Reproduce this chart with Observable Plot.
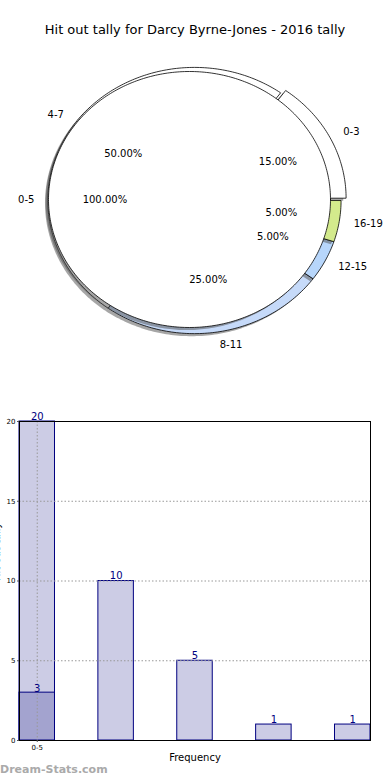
<!DOCTYPE html>
<html><head><meta charset="utf-8">
<script src="https://cdn.jsdelivr.net/npm/d3@7"></script>
<script src="https://cdn.jsdelivr.net/npm/@observablehq/plot@0.6"></script>
<style>
body{margin:0;background:#fff;font-family:"DejaVu Sans",sans-serif;}
#wrap{position:relative;width:390px;height:780px;overflow:hidden;background:#fff;}
#title{position:absolute;top:21px;left:0;width:390px;text-align:center;font-size:13px;line-height:18px;color:#000;}
#pie{position:absolute;top:50px;left:0;}
#bars{position:absolute;top:370px;left:0;}
#wm{position:absolute;left:0;top:763px;font-size:11px;font-weight:bold;color:#aaa;line-height:14px;}
</style></head>
<body><div id="wrap"><div id="title"></div><div id="pie"></div><div id="bars"></div><div id="wm"></div></div>
<script>
const title = "Hit out tally for Darcy Byrne-Jones - 2016 tally";
const innerLabels = ["0-5"];
const innerCounts = [20];
const outerLabels = ["0-3","4-7","8-11","12-15","16-19"];
const outerCounts = [3,10,5,1,1];
const outerColors = ["#ffffff","#ffffff","#c6daf9","#b7d6fb","#d3ea8c"];
const outerExplode = [0.04,0,0,0,0];
const barValues = [20,10,5,1,1];
const barPositions = [0,1,2,3,4];
const overlayValues = [3];
const overlayPositions = [0];
const yTicks = [0,5,10,15,20];
const xTickPositions = [0];
const xTickLabels = ["0-5"];
const xLabel = "Frequency";
const yLabel = "Hit out tally";
const watermark = "Dream-Stats.com";

document.getElementById("title").textContent = title;
document.getElementById("wm").textContent = watermark;

function wedges(counts, cx, cy, r, explode) {
  const total = d3.sum(counts);
  let acc = 0;
  return counts.map((c, i) => {
    const a0 = acc / total * 2 * Math.PI; acc += c; const a1 = acc / total * 2 * Math.PI;
    const mid = (a0 + a1) / 2;
    const ex = explode ? explode[i] : 0;
    const ox = cx + ex * Math.cos(mid), oy = cy + ex * Math.sin(mid);
    const n = Math.max(2, Math.ceil((a1 - a0) / (Math.PI / 180)));
    const full = c === total;
    const pts = [];
    if (!full) pts.push({x: ox, y: oy});
    for (let k = 0; k <= n; k++) { const a = a0 + (a1 - a0) * k / n; pts.push({x: ox + r * Math.cos(a), y: oy + r * Math.sin(a)}); }
    if (!full) pts.push({x: ox, y: oy});
    return {i, pts, mid, ox, oy, r, frac: c / total};
  });
}

const ocx = 0.035, ocy = -0.008, oR = 1.04;
const outerW = wedges(outerCounts, ocx, ocy, oR, outerExplode);
const innerW = wedges(innerCounts, 0, 0, 1, null);
const sh = 0.02;

const pieMarks = [];
function addWedge(w, color) {
  pieMarks.push(Plot.line(w.pts, {x: d => d.x - sh, y: d => d.y - sh, fill: "#4d4d4d", fillOpacity: 0.5, stroke: "none"}));
  pieMarks.push(Plot.line(w.pts, {x: "x", y: "y", fill: color, stroke: "#000", strokeWidth: 0.8}));
}
outerW.forEach(w => addWedge(w, outerColors[w.i]));
innerW.forEach(w => addWedge(w, "#ffffff"));

const labelRows = [
  ...outerW.map(w => ({t: outerLabels[w.i], x: w.ox + 1.1 * w.r * Math.cos(w.mid), y: w.oy + 1.1 * w.r * Math.sin(w.mid), c: Math.cos(w.mid)})),
  ...innerW.map(w => ({t: innerLabels[w.i], x: w.ox + 1.1 * w.r * Math.cos(w.mid), y: w.oy + 1.1 * w.r * Math.sin(w.mid), c: Math.cos(w.mid)}))
];
const pctRows = [
  ...outerW.map(w => ({t: (w.frac * 100).toFixed(2) + "%", x: w.ox + 0.6 * w.r * Math.cos(w.mid), y: w.oy + 0.6 * w.r * Math.sin(w.mid)})),
  ...innerW.map(w => ({t: (w.frac * 100).toFixed(2) + "%", x: w.ox + 0.6 * w.r * Math.cos(w.mid), y: w.oy + 0.6 * w.r * Math.sin(w.mid)}))
];
pieMarks.push(Plot.text(labelRows.filter(d => d.c >= 0), {x: "x", y: "y", text: "t", textAnchor: "start", fontSize: 10, fill: "#000"}));
pieMarks.push(Plot.text(labelRows.filter(d => d.c < 0), {x: "x", y: "y", text: "t", textAnchor: "end", fontSize: 10, fill: "#000"}));
pieMarks.push(Plot.text(pctRows, {x: "x", y: "y", text: "t", fontSize: 10, fill: "#000"}));

const pie = Plot.plot({
  width: 390, height: 320, margin: 0,
  style: {fontFamily: "DejaVu Sans", background: "transparent"},
  x: {domain: [-189 / 141, 201 / 141], axis: null},
  y: {domain: [-171 / 128, 149 / 128], axis: null},
  marks: pieMarks
});
document.getElementById("pie").append(pie);

const bars = barPositions.map((p, i) => ({pos: p, value: barValues[i]}));
const overlay = overlayPositions.map((p, i) => ({pos: p, value: overlayValues[i]}));
const hw = 0.225;

const barPlot = Plot.plot({
  width: 390, height: 410,
  marginLeft: 19, marginRight: 20, marginTop: 51, marginBottom: 40,
  style: {fontFamily: "DejaVu Sans", background: "transparent"},
  x: {domain: [-hw, 4 + hw], axis: null},
  y: {domain: [0, 20], axis: null},
  marks: [
    Plot.rect(bars, {x1: d => d.pos - hw, x2: d => d.pos + hw, y1: 0, y2: "value", fill: "#ccccE5", stroke: "#000080", strokeWidth: 1}),
    Plot.rect(overlay, {x1: d => d.pos - hw, x2: d => d.pos + hw, y1: 0, y2: "value", fill: "#a3a3cf", stroke: "#000080", strokeWidth: 1}),
    Plot.gridY({ticks: [5, 10, 15], stroke: "#999", strokeOpacity: 1, strokeDasharray: "1.5,2"}),
    Plot.gridX({ticks: xTickPositions, stroke: "#999", strokeOpacity: 1, strokeDasharray: "1.5,2"}),
    Plot.frame({stroke: "#000"}),
    Plot.axisY({ticks: yTicks, tickSize: 2, tickPadding: 2, fontSize: 7, label: null, stroke: "#555"}),
    Plot.axisX({ticks: xTickPositions, tickFormat: d => xTickLabels[xTickPositions.indexOf(d)], tickSize: 2, tickPadding: 3, fontSize: 7, label: null, stroke: "#555"}),
    Plot.text(bars, {x: "pos", y: "value", text: d => String(d.value), dy: -5, fill: "#000080", fontSize: 10}),
    Plot.text(overlay, {x: "pos", y: "value", text: d => String(d.value), dy: -4, fill: "#000080", fontSize: 10}),
    Plot.text([xLabel], {frameAnchor: "bottom", text: d => d, dy: 20, fontSize: 10, fill: "#000"}),
    Plot.text([yLabel], {frameAnchor: "left", text: d => d, rotate: -90, dx: -23, fontSize: 10, fill: "#000"})
  ]
});
document.getElementById("bars").append(barPlot);
</script>
</body></html>
